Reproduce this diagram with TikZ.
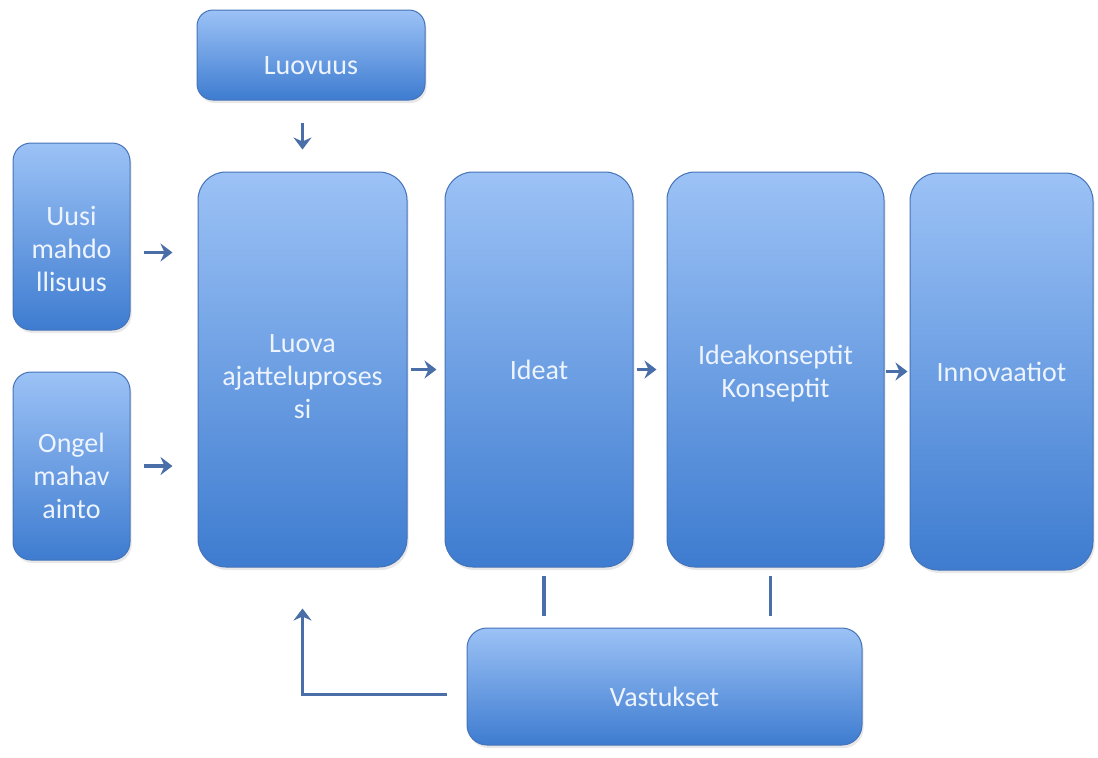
\documentclass[tikz,border=0pt]{standalone}
\usepackage{fontspec}
\setmainfont{Carlito}
\usetikzlibrary{arrows.meta,shadows}

\definecolor{boxtop}{HTML}{9CC2F6}
\definecolor{boxbot}{HTML}{3E7CD0}
\definecolor{boxedge}{HTML}{4573B8}
\definecolor{arrcol}{HTML}{4A6EA8}
\definecolor{txtcol}{HTML}{EEF4FF}

% nostaa ensimmaisen rivin korkeutta (teksti alemmas)
\newcommand{\alku}[1]{\rule{0pt}{#1}}

\tikzset{
  blok/.style={draw=boxedge, line width=0.5pt, rounded corners=#1,
    top color=boxtop, bottom color=boxbot, text=txtcol,
    font=\fontsize{14pt}{16.5pt}\selectfont, align=center,
    inner sep=0pt,
    drop shadow={opacity=0.18, shadow xshift=0.8pt, shadow yshift=-1.5pt}},
  blok/.default=14pt,
  arr/.style={draw=arrcol, line width=1.8pt,
    -{Stealth[length=6pt,width=9pt,inset=2pt]}},
  viiva/.style={draw=arrcol, line width=1.8pt}
}

\begin{document}
\begin{tikzpicture}[x=0.5pt,y=-0.5pt]
    \useasboundingbox (0,0) rectangle (1098,757);
    % laatikot
    \node[blok=8pt, minimum width=114pt, minimum height=45pt] (luovuus) at (311,55) {\alku{20pt}Luovuus};
    \node[blok=9pt, minimum width=58.5pt, minimum height=93.5pt] (uusi) at (71.5,236.5) {\alku{22pt}Uusi\\mahdo\\llisuus};
    \node[blok=9pt, minimum width=58.5pt, minimum height=94pt] (ongel) at (71.5,466) {\alku{20pt}Ongel\\mahav\\ainto};
    \node[blok, minimum width=104.5pt, minimum height=197.5pt] (luova) at (302.5,369.5) {\alku{16pt}Luova\\ajatteluproses\\si};
    \node[blok, minimum width=94pt, minimum height=197.5pt] (ideat) at (539,369.5) {Ideat};
    \node[blok, minimum width=108.5pt, minimum height=197.5pt] (ideak) at (775.5,369.5) {\alku{13.8pt}Ideakonseptit\\Konseptit};
    \node[blok, minimum width=91.5pt, minimum height=198.5pt] (innov) at (1001.5,371.5) {Innovaatiot};
    \node[blok=10pt, minimum width=197.5pt, minimum height=58.5pt] (vast) at (664.5,686.5) {\alku{20pt}Vastukset};
    % nuolet
    \draw[arr, shorten <=11pt, shorten >=11pt] (luova.north |- luovuus.south) -- (luova.north);
    \draw[arr, shorten <=6.5pt, shorten >=12.5pt] ([yshift=-8pt]uusi.east) -- ([yshift=-8pt]uusi.east -| luova.west);
    \draw[arr, shorten <=6.5pt, shorten >=12.5pt] (ongel.east) -- (ongel.east -| luova.west);
    \draw[arr, shorten <=1.5pt, shorten >=4pt] (luova) -- (ideat);
    \draw[arr, shorten <=1.5pt, shorten >=5pt] (ideat) -- (ideak);
    \draw[arr, shorten <=0.5pt, shorten >=1pt] (ideak.east |- innov.west) -- (innov.west);
    % vastukset
    \draw[viiva, shorten <=4pt, shorten >=6pt] ([xshift=2.5pt]ideat.south) -- ([xshift=2.5pt]ideat.south |- vast.north);
    \draw[viiva, shorten <=4pt, shorten >=6pt] ([xshift=-2.5pt]ideak.south) -- ([xshift=-2.5pt]ideak.south |- vast.north);
    \draw[arr, shorten <=10pt, shorten >=20.5pt] ([yshift=-4pt]vast.west) -| (luova.south);
\end{tikzpicture}
\end{document}
